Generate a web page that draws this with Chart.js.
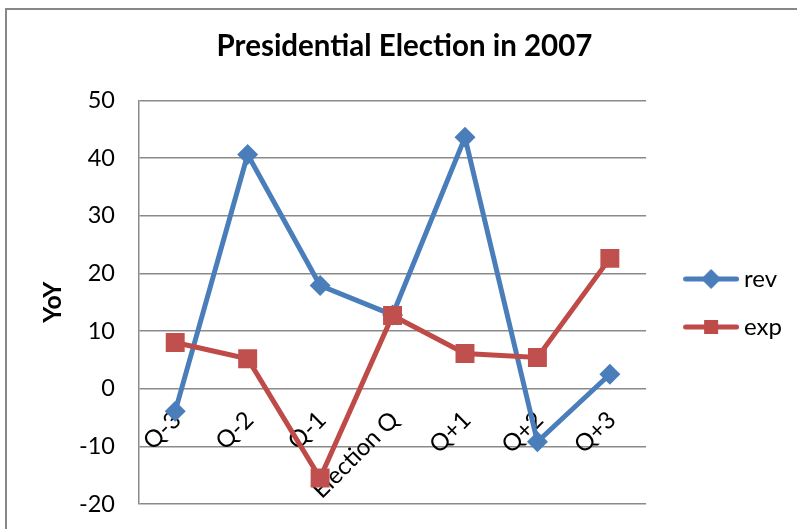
<!DOCTYPE html>
<html>
<head>
<meta charset="utf-8">
<script src="https://cdn.jsdelivr.net/npm/chart.js@4"></script>
<style>
  html, body { margin: 0; padding: 0; background: #fff; }
</style>
</head>
<body>
<canvas id="chart" width="797" height="529"></canvas>
<script>
const quarters = ['Q-3', 'Q-2', 'Q-1', 'Election Q', 'Q+1', 'Q+2', 'Q+3'];
const rev = [-3.9, 40.6, 17.9, 12.8, 43.6, -9.2, 2.5];
const exp = [8.0, 5.2, -15.5, 12.7, 6.1, 5.4, 22.6];
const yTicks = [-20, -10, 0, 10, 20, 30, 40, 50];

const BLUE = '#4a7ebb';
const RED = '#be4b48';
const GRID = '#8a8a8a';

Chart.defaults.font.family = 'Lato, "Open Sans", sans-serif';
Chart.defaults.color = '#000';

// little line + marker swatch for the legend
function legendIcon(color, shape) {
  const cv = document.createElement('canvas');
  cv.width = 76;
  cv.height = 24;
  const g = cv.getContext('2d');
  g.strokeStyle = color;
  g.lineWidth = 5;
  g.lineCap = 'round';
  g.beginPath();
  g.moveTo(22.5, 12);
  g.lineTo(73.5, 12);
  g.stroke();
  g.fillStyle = color;
  if (shape === 'diamond') {
    g.beginPath();
    g.moveTo(48, 2);
    g.lineTo(58, 12);
    g.lineTo(48, 22);
    g.lineTo(38, 12);
    g.closePath();
    g.fill();
  } else {
    g.fillRect(41, 5, 14, 14);
  }
  return cv;
}
const revIcon = legendIcon(BLUE, 'diamond');
const expIcon = legendIcon(RED, 'square');

// grey outline round the whole chart (runs off the right and bottom edge)
const frame = {
  id: 'frame',
  beforeDraw(chart) {
    const c = chart.ctx;
    c.save();
    c.strokeStyle = '#878787';
    c.lineWidth = 2;
    c.strokeRect(6, 9, chart.width + 20, chart.height + 20);
    c.restore();
  }
};

// push the legend block down so it sits level with the middle of the plot
const legendShift = {
  id: 'legendShift',
  afterLayout(chart) {
    const l = chart.legend;
    l.top += 51;
    l.bottom += 51;
  }
};

new Chart(document.getElementById('chart'), {
  type: 'line',
  data: {
    labels: quarters,
    datasets: [
      {
        label: 'rev',
        data: rev,
        borderColor: BLUE,
        backgroundColor: BLUE,
        borderWidth: 5,
        pointStyle: 'rectRot',
        pointRadius: 10.5,
        pointBorderWidth: 0,
        tension: 0,
        order: 1
      },
      {
        label: 'exp',
        data: exp,
        borderColor: RED,
        backgroundColor: '#c0504d',
        borderWidth: 5,
        pointStyle: 'rect',
        pointRadius: 13.4,
        pointBorderWidth: 0,
        tension: 0,
        order: 0
      }
    ]
  },
  options: {
    responsive: false,
    animation: false,
    layout: { padding: { left: 17, right: 5, top: 0, bottom: 25 } },
    plugins: {
      title: {
        display: true,
        text: 'Presidential Election in 2007',
        font: { size: 29.5, weight: 'bold' },
        color: '#000',
        padding: { top: 29, bottom: 36 }
      },
      legend: {
        position: 'right',
        labels: {
          usePointStyle: true,
          pointStyleWidth: 62,
          padding: 24,
          font: { size: 24 },
          color: '#000',
          generateLabels: () => [
            { text: 'rev', pointStyle: revIcon, fillStyle: BLUE, strokeStyle: BLUE, lineWidth: 0, datasetIndex: 0 },
            { text: 'exp', pointStyle: expIcon, fillStyle: RED, strokeStyle: RED, lineWidth: 0, datasetIndex: 1 }
          ]
        }
      },
      tooltip: { enabled: false }
    },
    scales: {
      x: {
        position: { y: 0 },
        offset: true,
        grid: { display: false },
        border: { display: false },
        // labels hang off the zero line, so they should not squeeze the plot
        afterFit: s => {
          s.paddingTop = s.paddingBottom = s.paddingLeft = s.paddingRight = 0;
        },
        ticks: {
          autoSkip: false,
          minRotation: 45,
          maxRotation: 45,
          padding: 9,
          labelOffset: 2,
          font: { size: 24 },
          color: '#000'
        }
      },
      y: {
        min: -20,
        max: 50,
        afterBuildTicks: s => { s.ticks = yTicks.map(v => ({ value: v })); },
        afterFit: s => {
          s.width = 122;
          s.paddingTop = s.paddingBottom = 0;
        },
        grid: { color: GRID, lineWidth: 1.5, drawTicks: false },
        border: { color: GRID, width: 1.5 },
        ticks: { padding: 24, font: { size: 23.5 }, color: '#000' },
        title: {
          display: true,
          text: 'YoY',
          font: { size: 25, weight: 'bold' },
          color: '#000',
          padding: { top: 21, bottom: 0 }
        }
      }
    }
  },
  plugins: [frame, legendShift]
});
</script>
</body>
</html>
